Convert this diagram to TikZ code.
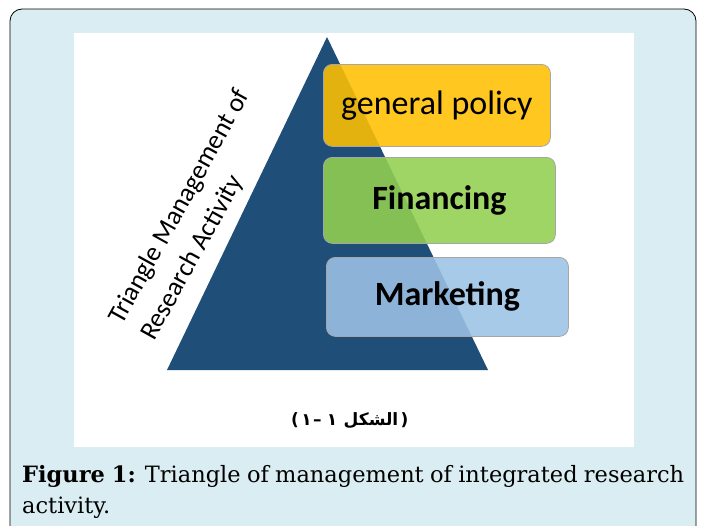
\documentclass[tikz,border=0pt]{standalone}
\usepackage{fontspec}
\setmainfont{DejaVu Serif}
\newfontfamily\calib{Carlito}
\newfontfamily\dejasans{DejaVu Sans}
\newfontfamily\arabicfont[Script=Arabic]{DejaVu Sans}
\TeXXeTstate=1
\usetikzlibrary{positioning}

\definecolor{marco}{HTML}{DAEDF2}
\definecolor{azultri}{HTML}{1F4E79}
\definecolor{amarillo}{HTML}{FFC000}
\definecolor{verde}{HTML}{92D050}
\definecolor{celeste}{HTML}{9DC3E6}

\tikzset{
  caja/.style={
    draw=gray!70,
    line width=0.8pt,
    rounded corners=9pt,
    fill opacity=0.88,
    anchor=north west
  },
  textocaja/.style={
    font=\calib\fontsize{34}{38}\selectfont
  },
  girado/.style={
    rotate=61,
    anchor=base west,
    inner sep=0pt,
    font=\calib\fontsize{26.5}{30}\selectfont
  },
  arabe/.style={
    inner sep=0pt,
    font=\arabicfont\bfseries\fontsize{17}{20}\selectfont
  },
  signo/.style={
    inner sep=0pt,
    font=\dejasans\bfseries\fontsize{17}{20}\selectfont
  }
}

\begin{document}
\begin{tikzpicture}[x=1pt,y=-1pt]

  \useasboundingbox (0,0) rectangle (701,525);

  % Marco de la figura
  \draw[fill=marco, line width=0.8pt, rounded corners=12pt]
    (10,9) rectangle (696,540);

  % Panel blanco
  \fill[white] (74,33) rectangle (634,447);

  % Triángulo
  \coordinate (vertice) at (327,37);
  \coordinate (izq) at (167,370);
  \coordinate (der) at (488,370);
  \fill[azultri] (vertice) -- (izq) -- (der) -- cycle;

  % Niveles
  \node[caja, fill=amarillo, minimum width=227pt, minimum height=82pt]
    (politica) at (323,64) {};
  \node[textocaja] at (politica.center) {general policy};

  \node[caja, fill=verde, minimum width=232pt, minimum height=86pt]
    (financiacion) at (323,157) {};
  \node[textocaja] at (financiacion.center) {\bfseries Financing};

  \node[caja, fill=celeste, minimum width=242pt, minimum height=79pt]
    (mercadeo) at (326,257) {};
  \node[textocaja] at (mercadeo.center) {\bfseries Marketing};

  % Rótulo girado, dos líneas
  \node[girado] (rotulo1) at (122,326) {Triangle Management of};
  \node[girado] (rotulo2) at (154,342) {Research Activity};

  % Etiqueta en árabe, pieza a pieza
  \node[arabe, anchor=base] (palabra) at (371,425) {الشكل};
  \node[arabe, base left=6pt of palabra] (uno2) {١};
  \node[signo, base left=5pt of uno2] (raya) {–};
  \node[arabe, base left=1pt of raya] (uno1) {١};
  \node[signo, base left=2pt of uno1] (abre) {(};
  \node[signo, base right=2pt of palabra] (cierra) {)};

  % Pie de figura
  \node[anchor=north west, text width=662pt, align=justify,
        inner sep=0pt, font=\fontsize{22.5}{31}\selectfont]
    (pie) at (22,465)
    {\hyphenpenalty=10000
     \textbf{Figure 1:} Triangle of management of integrated research activity.};

\end{tikzpicture}
\end{document}
